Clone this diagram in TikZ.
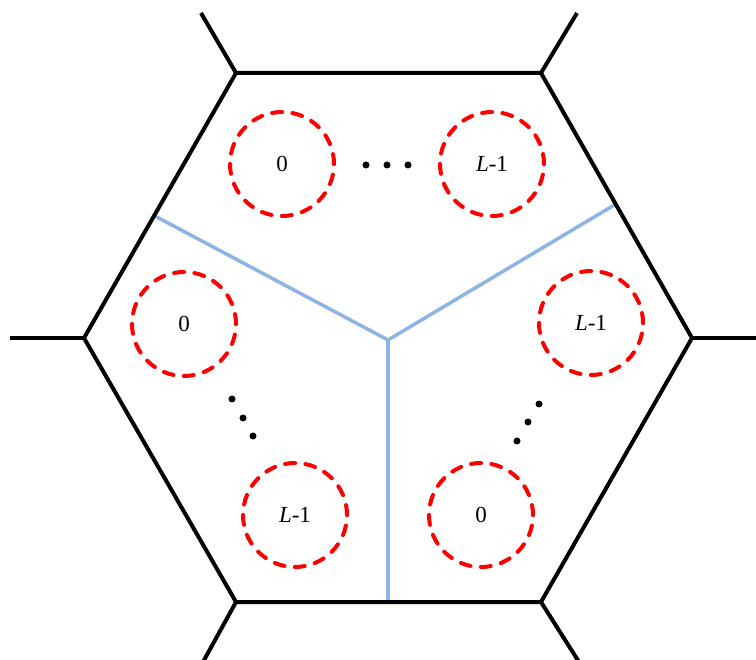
\documentclass[tikz,border=0pt]{standalone}
\usepackage{fontspec}
\setmainfont{Liberation Serif}
\begin{document}
\begin{tikzpicture}[x=1pt,y=-1pt,
  hexline/.style={line width=4pt,line join=miter},
  spoke/.style={line width=4pt},
  divider/.style={line width=3.5pt,color=blueline},
  beam/.style={circle,draw=red,line width=4pt,line cap=round,dash pattern=on 10pt off 10.4pt,minimum size=104pt,inner sep=0pt,font=\fontsize{23}{27}\selectfont},
  dotmark/.style={circle,fill=black,inner sep=0pt,minimum size=7pt}]
\definecolor{blueline}{RGB}{141,180,226}
\useasboundingbox (0,0) rectangle (756,660);
% hexagon vertices
\coordinate (L) at (84,338);
\coordinate (R) at (692,338);
\coordinate (TL) at (236,73);
\coordinate (TR) at (541,73);
\coordinate (BL) at (236,602);
\coordinate (BR) at (541,602);
% spoke ends
\coordinate (Le) at (10,338);
\coordinate (Re) at (756,338);
\coordinate (TLe) at (201,13);
\coordinate (TRe) at (577,13);
\coordinate (BLe) at (203,662);
\coordinate (BRe) at (579,662);
% center and divider ends
\coordinate (C) at (388,340);
\coordinate (D1) at (153,215);
\coordinate (D2) at (616,204);
\coordinate (D3) at (388,602);
\draw[divider] (D1) -- (C) -- (D2);
\draw[divider] (C) -- (D3);
\draw[hexline] (L) -- (TL) -- (TR) -- (R) -- (BR) -- (BL) -- cycle;
\draw[spoke] (L) -- (Le);
\draw[spoke] (R) -- (Re);
\draw[spoke] (TL) -- (TLe);
\draw[spoke] (TR) -- (TRe);
\draw[spoke] (BL) -- (BLe);
\draw[spoke] (BR) -- (BRe);
% beams
\node[beam] (a0) at (282,164) {0};
\node[beam] (a1) at (492,164) {\textit{L}-1};
\node[beam] (b0) at (184,324) {0};
\node[beam] (b1) at (295,515) {\textit{L}-1};
\node[beam] (c1) at (591,323) {\textit{L}-1};
\node[beam] (c0) at (481,515) {0};
% dots
\node[dotmark] (ad1) at (366,165) {};
\node[dotmark] (ad2) at (387,165) {};
\node[dotmark] (ad3) at (408,165) {};
\node[dotmark] (bd1) at (232,399) {};
\node[dotmark] (bd2) at (243,418) {};
\node[dotmark] (bd3) at (253,436) {};
\node[dotmark] (cd1) at (539,404) {};
\node[dotmark] (cd2) at (528,422) {};
\node[dotmark] (cd3) at (517,441) {};
\end{tikzpicture}
\end{document}
